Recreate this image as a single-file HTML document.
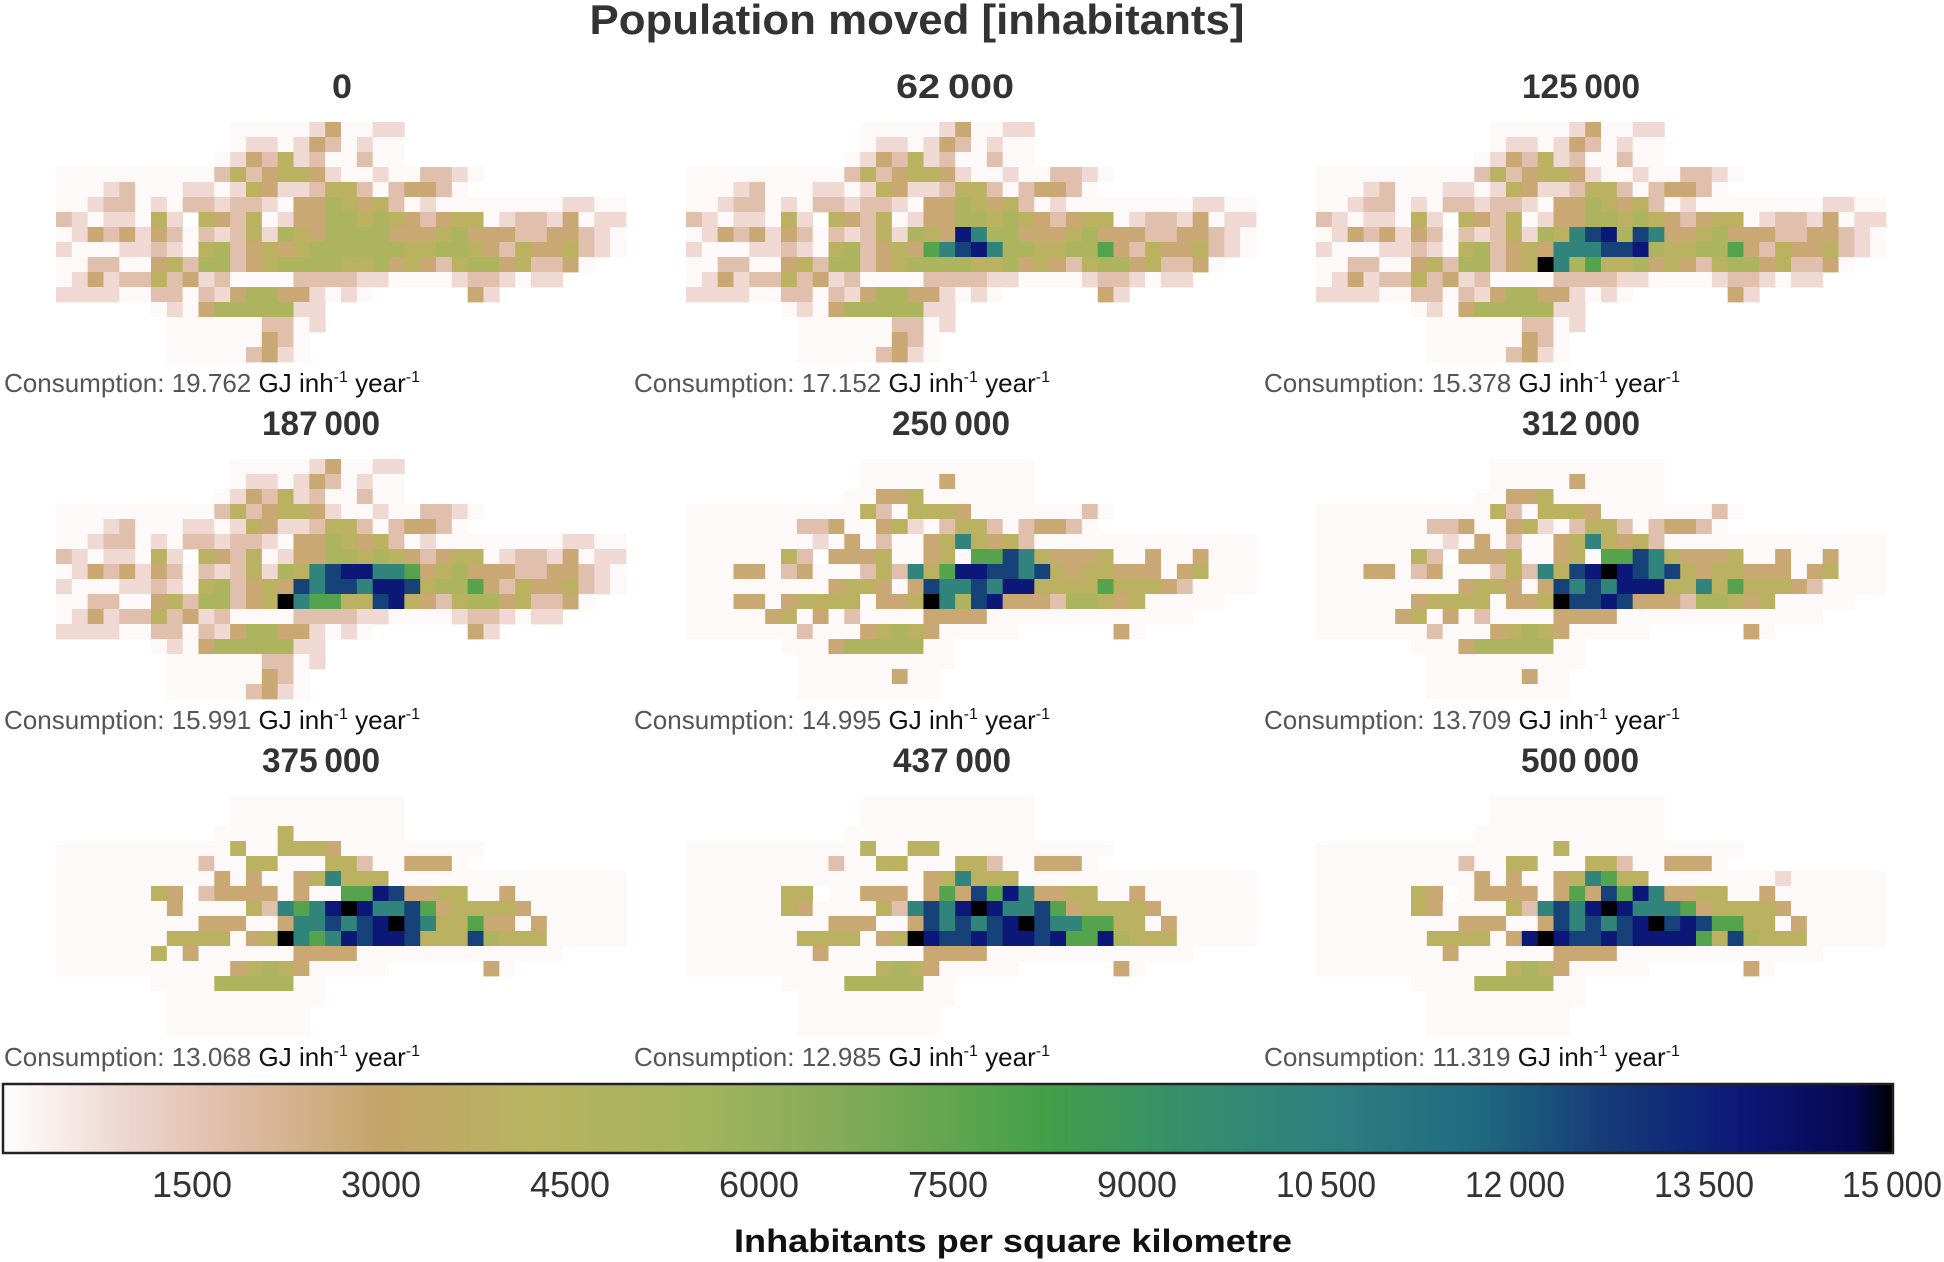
<!DOCTYPE html>
<html><head><meta charset="utf-8"><title>Population moved</title>
<style>
html,body{margin:0;padding:0;background:#fff;}
svg{display:block;font-family:"Liberation Sans",sans-serif;}
</style></head>
<body>
<svg id="chart" width="1944" height="1262" viewBox="0 0 1944 1262" xmlns="http://www.w3.org/2000/svg">
<defs>
<linearGradient id="cmap" x1="0" x2="1" y1="0" y2="0">
<stop offset="0" stop-color="#ffffff"/><stop offset="0.07" stop-color="#ecd3cb"/><stop offset="0.13" stop-color="#dcb9a0"/>
<stop offset="0.2" stop-color="#c4a468"/><stop offset="0.28" stop-color="#b8b460"/><stop offset="0.37" stop-color="#a3b45c"/>
<stop offset="0.45" stop-color="#80aa58"/><stop offset="0.55" stop-color="#44a048"/><stop offset="0.62" stop-color="#35906a"/>
<stop offset="0.7" stop-color="#2e8080"/><stop offset="0.78" stop-color="#206a80"/><stop offset="0.85" stop-color="#163a78"/>
<stop offset="0.92" stop-color="#0c1878"/><stop offset="0.98" stop-color="#060850"/><stop offset="1" stop-color="#000000"/>
</linearGradient>
</defs>
<text x="917" y="34" text-anchor="middle" font-size="42" font-weight="bold" fill="#333" textLength="655" lengthAdjust="spacingAndGlyphs">Population moved [inhabitants]</text>
<g id="panels"></g>
<g id="cbar"></g>
<text x="1013" y="1252" text-anchor="middle" font-size="32" font-weight="bold" fill="#111" textLength="558" lengthAdjust="spacingAndGlyphs">Inhabitants per square kilometre</text>
</svg>
<script>
// ---- data ----
const panelTitles = ["0","62\u2009000","125\u2009000","187\u2009000","250\u2009000","312\u2009000","375\u2009000","437\u2009000","500\u2009000"];
const consumptionValues = ["19.762","17.152","15.378","15.991","14.995","13.709","13.068","12.985","11.319"];
// density level codes -> inhabitants per km2
const levelCodes = ["0","1","2","3","4","5","6","7","8","9","a"];
const levelValues = [150,900,1700,2800,4000,5000,7800,10200,12600,13800,15000];
const baseGrid = [
"...........00000130011",
"...........01101320100",
"..........013241200200",
"000000000024234431001002210",
"00012000110143112442023320",
"001220102212210335434201000000001100",
"21011041.432401335545432344012213011",
"013231320212415435555333453332233210",
"100011210452343455555544554324334210",
"0022003425523455554453432455342230",
"01312242312000022221100001221011",
"11110022021355331010......31",
"......01035555511",
".......0000002201",
".......000000320",
".......000002310"];
const p1Edits = [[7,17,"9"],[7,18,"7"],[8,15,"6"],[8,16,"7"],[8,17,"8"],[8,18,"9"],[8,19,"7"],[8,26,"6"]];
const p2Edits = [[7,16,"7"],[7,17,"8"],[7,18,"9"],[7,20,"8"],[7,21,"7"],[8,15,"7"],[8,16,"7"],[8,17,"7"],[8,18,"8"],[8,19,"8"],[8,20,"9"],[8,26,"6"],[9,14,"a"],[9,15,"7"],[9,17,"6"]];
const p3Edits = [[7,16,"7"],[7,17,"8"],[7,18,"9"],[7,19,"9"],[7,20,"7"],[7,21,"7"],[7,22,"6"],[8,15,"8"],[8,16,"7"],[8,17,"8"],[8,18,"8"],[8,19,"7"],[8,20,"9"],[8,21,"9"],[8,22,"8"],[8,26,"6"],[9,14,"a"],[9,15,"7"],[9,16,"6"],[9,17,"6"],[9,20,"8"],[9,21,"9"]];
const grid250 = [
"...........00000000000",
"...........00000300000",
"..........003340000000",
"000000000004204443000000020",
"00000002230034102442023320",
"000000001030200347434200000000000000",
"00000042.333400340668743334003003000",
"000330230002427469988784344333034000",
"000000000344303877879944446444320000",
"0003303444403 34a758933325543400000".replace(" ",""),
"00000340302000033330000000000000",
"000000020003454300000......30",
"......00035555500",
".......0000000000",
".......000000300",
".......000000000"];
const p5Edits = [[7,16,"8"],[7,18,"a"],[7,19,"9"],[8,17,"8"],[8,18,"7"],[8,19,"9"],[8,24,"7"],[9,16,"8"],[9,17,"8"],[9,18,"9"],[9,19,"8"],[9,3,"0"],[9,4,"0"]];
const grid375 = [
"...........00000000000",
"...........00000000000",
"..........000040000000",
"000000000004004443000000000",
"00000000020044000442003330",
"000000000030300347444000000000000000",
"00000043.233330300669833440030000000",
"000000030000427679a977863444430000000",
"000000000333003778789a87446330300000",
"00000004444034a767989984448544400000",
"00000040300000033330000000000000",
"000000000003454300000......30",
"......00005555500",
".......0000000000",
".......000000000",
".......000000000"];
const p7Edits = [[2,14,"0"],[3,16,"0"],[3,17,"0"],[5,10,"0"],[5,12,"0"],[6,9,"0"],[6,10,"0"],[6,7,"4"],[6,16,"6"],[6,17,"3"],[6,18,"8"],[6,19,"6"],[6,20,"9"],[6,21,"7"],[7,6,"4"],[7,7,"3"],[7,14,"7"],[7,15,"8"],[7,16,"7"],[7,17,"9"],[7,18,"a"],[8,15,"8"],[8,24,"7"],[8,25,"6"],[8,27,"4"],[8,28,"4"],[9,14,"a"],[9,15,"9"],[9,16,"8"],[9,17,"8"],[9,18,"9"],[9,23,"9"],[9,24,"6"],[9,25,"6"],[9,26,"9"],[9,30,"4"],[10,5,"0"],[10,6,"0"],[11,11,"0"]];
const p8Edits = [[3,11,"0"],[3,14,"0"],[4,12,"4"],[4,13,"4"],[5,10,"3"],[5,12,"3"],[5,18,"6"],[6,7,"3"],[6,10,"3"],[6,11,"3"],[7,22,"7"],[8,10,"3"],[8,11,"3"],[8,21,"a"],[8,22,"8"],[8,23,"9"],[8,24,"8"],[8,26,"6"],[9,13,"9"],[9,14,"a"],[9,22,"9"],[9,23,"9"],[9,25,"4"],[9,26,"8"],[5,29,"1"]];

// ---- layout ----
const NC = 36, NR = 16;
const panelX = [56, 686, 1316], panelY = [122, 459, 796];
const PW = 570, PH = 240;
const titleX = [[342,955,1581],[321,951,1581],[321,952,1580]];
const cbX0 = 3, cbX1 = 1893, cbY = 1084, cbH = 69;
const VMAX = 15000;
const cmStops = [[0,[255,255,255]],[0.07,[236,211,203]],[0.13,[220,185,160]],[0.2,[196,164,104]],[0.28,[184,180,96]],[0.37,[163,180,92]],[0.45,[128,170,88]],[0.55,[68,160,72]],[0.62,[53,144,106]],[0.7,[46,128,128]],[0.78,[32,106,128]],[0.85,[22,58,120]],[0.92,[12,24,120]],[0.98,[6,8,80]],[1,[0,0,0]]];
function cmap(v){
  const t = Math.max(0, Math.min(1, v / VMAX));
  for (let i = 1; i < cmStops.length; i++) {
    if (t <= cmStops[i][0]) {
      const a = cmStops[i-1], b = cmStops[i];
      const f = (t - a[0]) / (b[0] - a[0]);
      const c = a[1].map((x, k) => Math.round(x + (b[1][k] - x) * f));
      return "rgb(" + c.join(",") + ")";
    }
  }
  return "#000";
}
function applyEdits(rows, edits){
  const g = rows.map(r => (r + ".".repeat(NC)).slice(0, NC).split(""));
  edits.forEach(e => { g[e[0]][e[1]] = e[2]; });
  return g.map(r => r.join(""));
}
const g1 = applyEdits(baseGrid, p1Edits);
const g2 = applyEdits(baseGrid, p2Edits);
const g3 = applyEdits(baseGrid, p3Edits);
const g4 = applyEdits(grid250, []);
const g5 = applyEdits(grid250, p5Edits);
const g6 = applyEdits(grid375, []);
const g7 = applyEdits(grid375, p7Edits);
const g8 = applyEdits(g7, p8Edits);
const grids = [applyEdits(baseGrid, []), g1, g2, g3, g4, g5, g6, g7, g8];

const NS = "http://www.w3.org/2000/svg";
function mk(tag, attrs, parent){
  const el = document.createElementNS(NS, tag);
  for (const k in attrs) el.setAttribute(k, attrs[k]);
  parent.appendChild(el);
  return el;
}
const panelsG = document.getElementById("panels");
const xScale = c => c * PW / NC;
const yScale = r => r * PH / NR;
grids.forEach((grid, p) => {
  const row = Math.floor(p / 3), col = p % 3;
  const px = panelX[col], py = panelY[row];
  const g = mk("g", {transform: "translate(" + px + "," + py + ")"}, panelsG);
  
  
  grid.forEach((line, r) => {
    for (let c = 0; c < NC; c++) {
      const ch = line[c];
      const li = levelCodes.indexOf(ch);
      if (li < 0) continue;
      const rect = mk("rect", {x: xScale(c).toFixed(2), y: yScale(r), width: (PW/NC + 0.4).toFixed(2), height: PH/NR + 0.4, fill: cmap(levelValues[li])}, g);
      
      
    }
  });
  const t = mk("text", {x: titleX[row][col], y: py - 24, "text-anchor": "middle", "font-size": 34, "font-weight": "bold", fill: "#333", "textLength": panelTitles[p].length > 2 ? 118 : 20, lengthAdjust: "spacingAndGlyphs"}, panelsG);
  
  
  t.textContent = panelTitles[p];
  const lx = [4, 634, 1264][col];
  const ct = mk("text", {x: lx, y: py + 270, "font-size": 26, fill: "#555", textLength: 416, lengthAdjust: "spacingAndGlyphs"}, panelsG);
  
  
  ct.innerHTML = 'Consumption: ' + consumptionValues[p] + ' <tspan fill="#111">GJ inh</tspan><tspan fill="#111" font-size="16" dy="-10">-1</tspan><tspan fill="#111" dy="10"> year</tspan><tspan fill="#111" font-size="16" dy="-10">-1</tspan>';
});

// colorbar
const tickValues = [1500,3000,4500,6000,7500,9000,10500,12000,13500,15000];
const tickLabels = ["1500","3000","4500","6000","7500","9000","10\u2009500","12\u2009000","13\u2009500","15\u2009000"];
const cb = document.getElementById("cbar");
const cbScale = v => cbX0 + (cbX1 - cbX0) * v / VMAX;
const bar = mk("rect", {x: cbX0, y: cbY, width: cbX1 - cbX0, height: cbH, fill: "url(#cmap)", stroke: "#222", "stroke-width": 2.5}, cb);


tickValues.forEach((v, i) => {
  const t = mk("text", {x: cbScale(v), y: 1197, "text-anchor": i === tickValues.length - 1 ? "end" : "middle", "font-size": 36, fill: "#333", textLength: tickLabels[i].length > 4 ? 100 : 80, lengthAdjust: "spacingAndGlyphs"}, cb);
  if (i === tickValues.length - 1) t.setAttribute("x", 1942);
  
  
  t.textContent = tickLabels[i];
});
</script>
</body></html>
